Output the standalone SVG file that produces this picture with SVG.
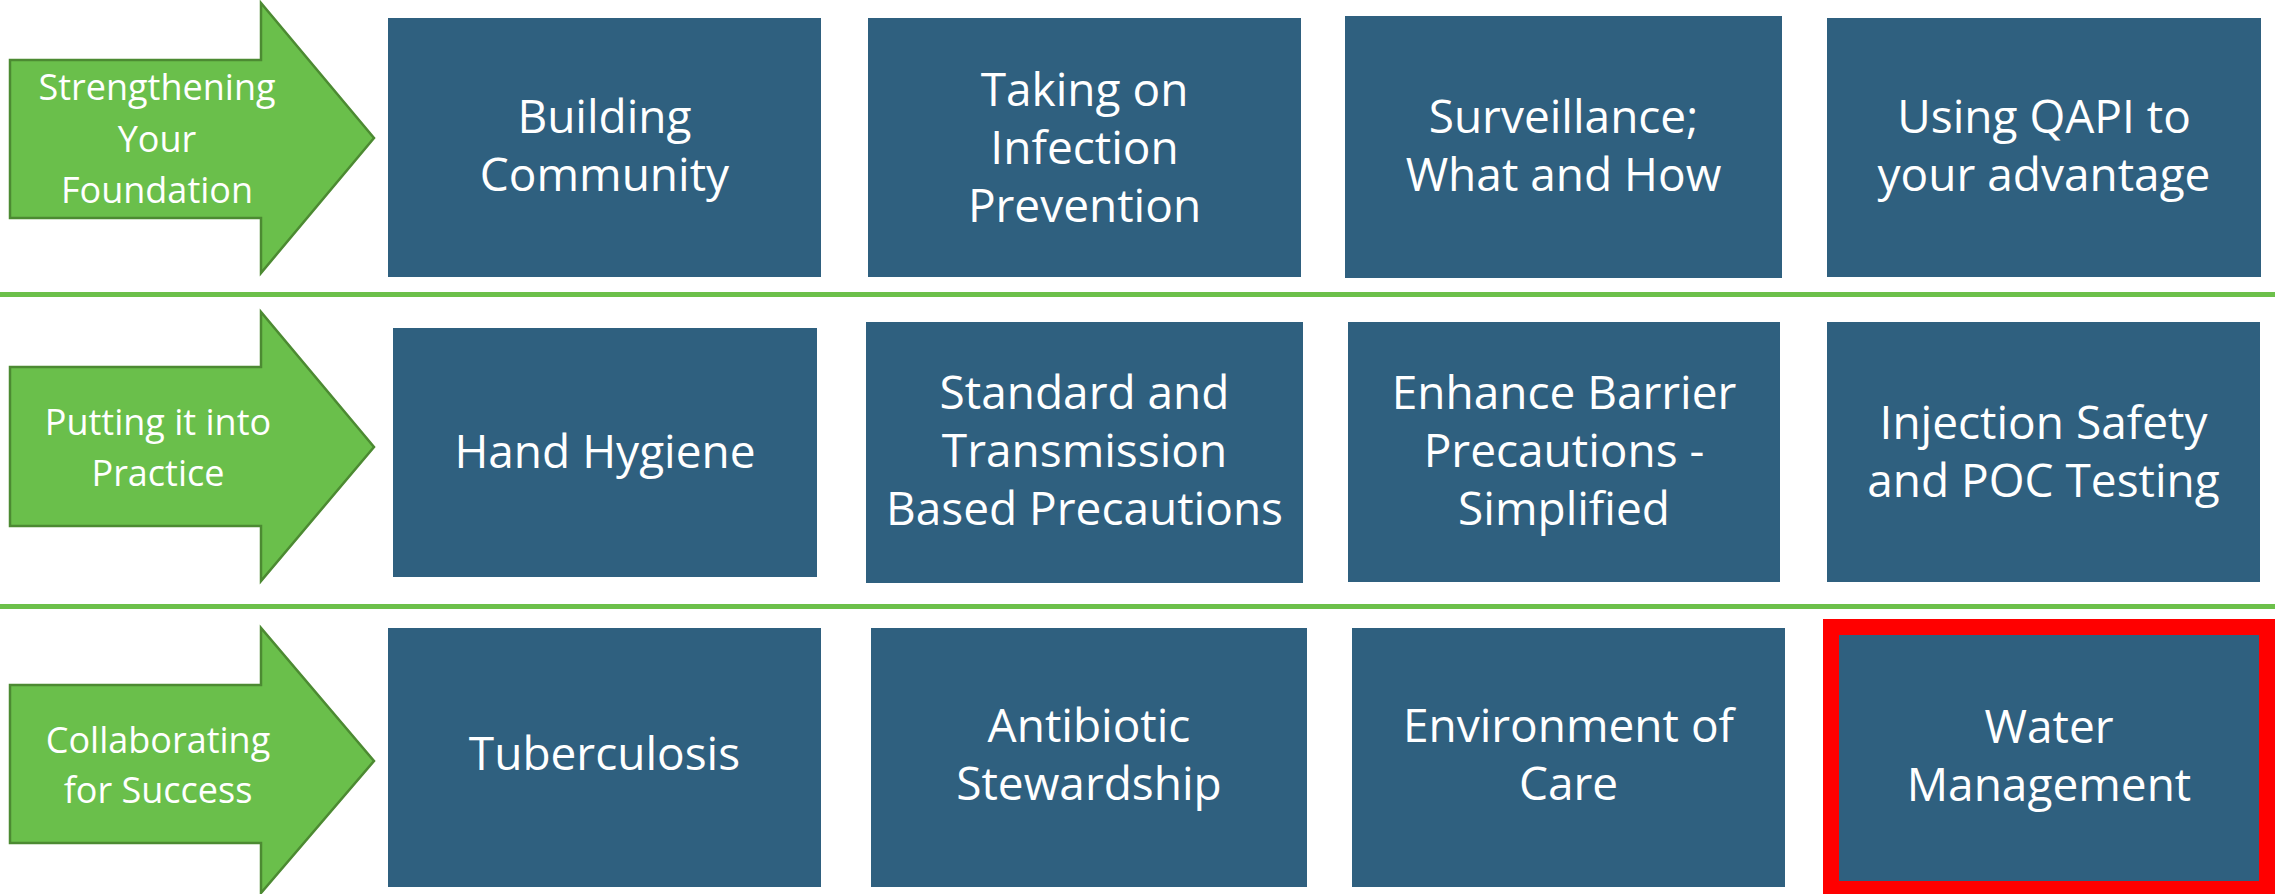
<svg xmlns="http://www.w3.org/2000/svg" width="2275" height="894" viewBox="0 0 2275 894">
<style>
.box{fill:#2F607F}
.arrow{fill:#6ABF4B;stroke:#4C8A32;stroke-width:2.5;stroke-linejoin:miter}
.sep{stroke:#6CC04A;stroke-width:5}
.bt{font-family:"Open Sans","Liberation Sans",sans-serif;font-size:46px;fill:#fff;text-anchor:middle}
.at{font-family:"Open Sans","Liberation Sans",sans-serif;font-size:36px;fill:#fff;text-anchor:middle}
</style>
<rect width="2275" height="894" fill="#fff"/>
<g id="connectors">
<line class="sep" x1="0" y1="294.5" x2="2275" y2="294.5"/>
<line class="sep" x1="0" y1="606.5" x2="2275" y2="606.5"/>
</g>
<g id="arrow1">
<polygon class="arrow" points="10,60 261,60 261,3 374,138 261,273 261,218 10,218"/>
<text class="at" x="157" y="100">Strengthening</text>
<text class="at" x="157" y="152">Your</text>
<text class="at" x="157" y="203">Foundation</text>
</g>
<g id="arrow2">
<polygon class="arrow" points="10,367 261,367 261,312 374,447 261,581 261,526 10,526"/>
<text class="at" x="158" y="435">Putting it into</text>
<text class="at" x="158" y="486">Practice</text>
</g>
<g id="arrow3">
<polygon class="arrow" points="10,685 261,685 261,628 374,761 261,893 261,843 10,843"/>
<text class="at" x="158" y="753">Collaborating</text>
<text class="at" x="158" y="803">for Success</text>
</g>
<g id="building-community">
<rect class="box" x="388" y="18" width="433" height="259"/>
<text class="bt" x="604.5" y="133">Building</text>
<text class="bt" x="604.5" y="191">Community</text>
</g>
<g id="taking-on">
<rect class="box" x="868" y="18" width="433" height="259"/>
<text class="bt" x="1084.5" y="106">Taking on</text>
<text class="bt" x="1084.5" y="164">Infection</text>
<text class="bt" x="1084.5" y="222">Prevention</text>
</g>
<g id="surveillance">
<rect class="box" x="1345" y="16" width="437" height="262"/>
<text class="bt" x="1563.5" y="133">Surveillance;</text>
<text class="bt" x="1563.5" y="191">What and How</text>
</g>
<g id="qapi">
<rect class="box" x="1827" y="18" width="434" height="259"/>
<text class="bt" x="2044" y="133">Using QAPI to</text>
<text class="bt" x="2044" y="191">your advantage</text>
</g>
<g id="hand-hygiene">
<rect class="box" x="393" y="328" width="424" height="249"/>
<text class="bt" x="605" y="468">Hand Hygiene</text>
</g>
<g id="standard">
<rect class="box" x="866" y="322" width="437" height="261"/>
<text class="bt" x="1084.5" y="409">Standard and</text>
<text class="bt" x="1084.5" y="467">Transmission</text>
<text class="bt" x="1084.5" y="525">Based Precautions</text>
</g>
<g id="ebp">
<rect class="box" x="1348" y="322" width="432" height="260"/>
<text class="bt" x="1564" y="409">Enhance Barrier</text>
<text class="bt" x="1564" y="467">Precautions -</text>
<text class="bt" x="1564" y="525">Simplified</text>
</g>
<g id="injection">
<rect class="box" x="1827" y="322" width="433" height="260"/>
<text class="bt" x="2043.5" y="439">Injection Safety</text>
<text class="bt" x="2043.5" y="497">and POC Testing</text>
</g>
<g id="tuberculosis">
<rect class="box" x="388" y="628" width="433" height="259"/>
<text class="bt" x="604.5" y="770">Tuberculosis</text>
</g>
<g id="antibiotic">
<rect class="box" x="871" y="628" width="436" height="259"/>
<text class="bt" x="1089" y="742">Antibiotic</text>
<text class="bt" x="1089" y="800">Stewardship</text>
</g>
<g id="environment">
<rect class="box" x="1352" y="628" width="433" height="259"/>
<text class="bt" x="1568.5" y="742">Environment of</text>
<text class="bt" x="1568.5" y="800">Care</text>
</g>
<g id="water">
<rect class="box" x="1831" y="627" width="436" height="262" stroke="#FF0000" stroke-width="16"/>
<text class="bt" x="2049" y="743">Water</text>
<text class="bt" x="2049" y="801">Management</text>
</g>
</svg>
